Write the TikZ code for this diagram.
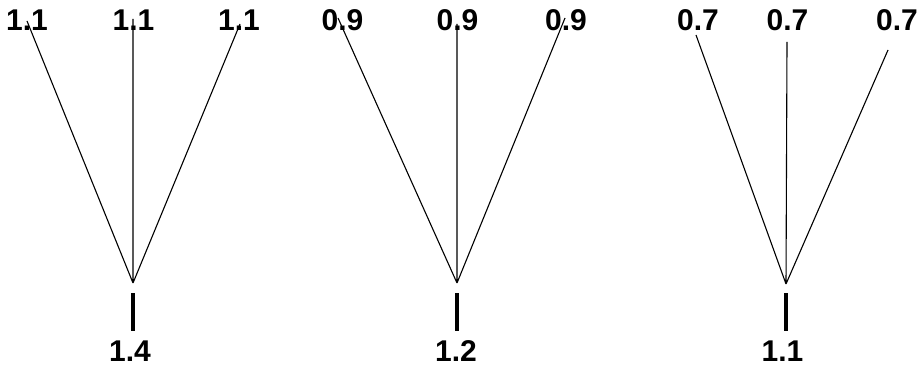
\documentclass[tikz,border=0pt]{standalone}
\usepackage{fontspec}
\setmainfont{Liberation Sans}
\begin{document}
\begin{tikzpicture}[x=1pt,y=-1pt,
  lbl/.style={font=\bfseries\fontsize{30}{32}\selectfont, inner sep=0pt, anchor=center},
  thin line/.style={line width=1.1pt, black},
  bar/.style={line width=4pt, black}]
\useasboundingbox (0,0) rectangle (917,374);
% group 1
\coordinate (a1) at (133,283);
\coordinate (t1l) at (27,21);
\coordinate (t1m) at (133,19);
\coordinate (t1r) at (240,24);
\node[lbl] (l1l) at (27,20.5) {1.1};
\node[lbl] (l1m) at (133.5,20.5) {1.1};
\node[lbl] (l1r) at (239,20.5) {1.1};
\draw[thin line] (a1) -- (t1l) (a1) -- (t1m) (a1) -- (t1r);
\coordinate (b1s) at (133,293);
\coordinate (b1e) at (133,331);
\draw[bar] (b1s) -- (b1e);
\node[lbl] (w1) at (130,351) {1.4};
% group 2
\coordinate (a2) at (457,283);
\coordinate (t2l) at (338,18);
\coordinate (t2m) at (457,24);
\coordinate (t2r) at (565,18);
\node[lbl] (l2l) at (342.5,20.5) {0.9};
\node[lbl] (l2m) at (457.5,20.5) {0.9};
\node[lbl] (l2r) at (566,20.5) {0.9};
\draw[thin line] (a2) -- (t2l) (a2) -- (t2m) (a2) -- (t2r);
\coordinate (b2s) at (457,293);
\coordinate (b2e) at (457,331);
\draw[bar] (b2s) -- (b2e);
\node[lbl] (w2) at (456,351) {1.2};
% group 3
\coordinate (a3) at (786,284);
\coordinate (t3l) at (696,35);
\coordinate (t3m) at (787,42);
\coordinate (t3r) at (888,50);
\node[lbl] (l3l) at (698,20.5) {0.7};
\node[lbl] (l3m) at (787.5,20.5) {0.7};
\node[lbl] (l3r) at (897,20.5) {0.7};
\draw[thin line] (a3) -- (t3l) (a3) -- (t3m) (a3) -- (t3r);
\coordinate (b3s) at (786,293);
\coordinate (b3e) at (786,331);
\draw[bar] (b3s) -- (b3e);
\node[lbl] (w3) at (782.5,351) {1.1};
\end{tikzpicture}
\end{document}
